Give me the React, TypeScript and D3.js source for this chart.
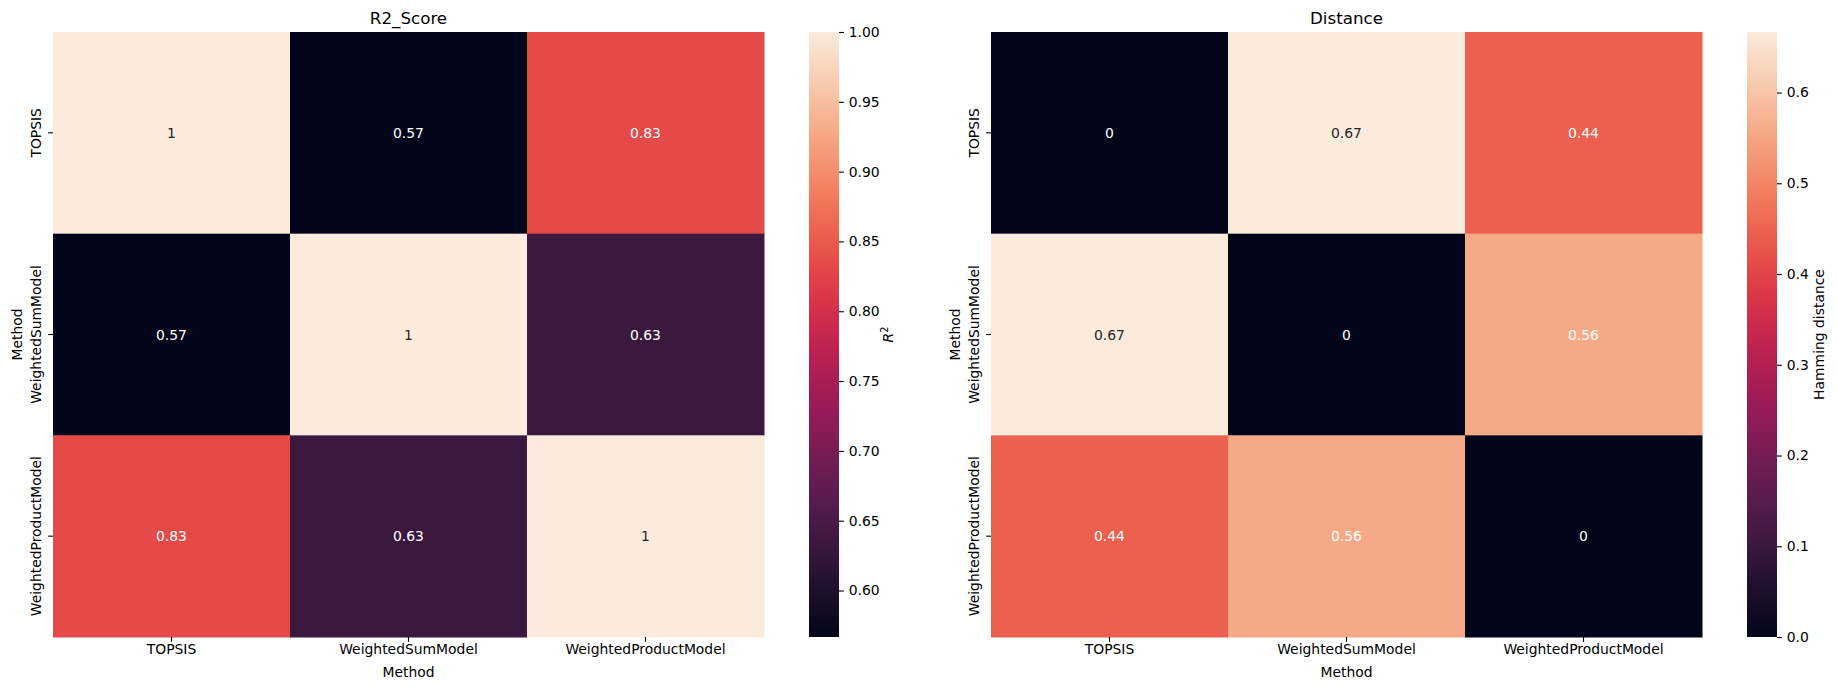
import React, { useEffect, useRef } from "react";
import * as d3 from "d3";

const methods = ["TOPSIS", "WeightedSumModel", "WeightedProductModel"];

// R2 score matrix
const r2Values = [
  [1.0, 0.5667, 0.8333],
  [0.5667, 1.0, 0.6333],
  [0.8333, 0.6333, 1.0],
];

// Hamming distance matrix
const distValues = [
  [0, 0.6667, 0.4444],
  [0.6667, 0, 0.5556],
  [0.4444, 0.5556, 0],
];

const r2Ticks = [0.6, 0.65, 0.7, 0.75, 0.8, 0.85, 0.9, 0.95, 1.0];
const distTicks = [0.0, 0.1, 0.2, 0.3, 0.4, 0.5, 0.6];

// seaborn "rocket" colormap, approximated by stops
const rocketStops = [
  "#03051a",
  "#35193e",
  "#701f57",
  "#ad1759",
  "#e13342",
  "#f37651",
  "#f6b48f",
  "#faebdd",
];
const rocket = d3.interpolateRgbBasis(rocketStops);

const FONT = "DejaVu Sans, sans-serif";
const W = 1838;
const H = 690;

const App = () => {
  const ref = useRef(null);

  useEffect(() => {
    const svg = d3.select(ref.current);
    svg.selectAll("*").remove();

    const top = 32;
    const bottom = 637;
    const tick = 4.86;

    const panels = [
      {
        title: "R2_Score",
        data: r2Values,
        left: 53,
        right: 764,
        cbLeft: 809,
        cbTicks: r2Ticks,
        cbFmt: d3.format(".2f"),
        domain: [0.5667, 1.0],
        cbLabelX: 893,
        cbLabel: "R2",
        light: 0.5,
      },
      {
        title: "Distance",
        data: distValues,
        left: 991,
        right: 1702,
        cbLeft: 1747,
        cbTicks: distTicks,
        cbFmt: d3.format(".1f"),
        domain: [0, 0.6667],
        cbLabelX: 1824,
        cbLabel: "Hamming distance",
        light: 0.75,
      },
    ];

    panels.forEach((p, pi) => {
      const x = d3.scaleBand().domain(methods).range([p.left, p.right]);
      const y = d3.scaleBand().domain(methods).range([top, bottom]);
      const norm = d3.scaleLinear().domain(p.domain).range([0, 1]).clamp(true);
      const color = (v) => rocket(norm(v));
      const fmt = d3.format(".2~g");

      const g = svg.append("g");

      const cells = [];
      p.data.forEach((row, i) =>
        row.forEach((v, j) => cells.push({ r: methods[i], c: methods[j], v }))
      );

      g.selectAll("rect.cell")
        .data(cells)
        .join("rect")
        .attr("x", (d) => x(d.c))
        .attr("y", (d) => y(d.r))
        .attr("width", x.bandwidth() + 0.5)
        .attr("height", y.bandwidth() + 0.5)
        .attr("fill", (d) => color(d.v));

      g.selectAll("text.annot")
        .data(cells)
        .join("text")
        .attr("x", (d) => x(d.c) + x.bandwidth() / 2)
        .attr("y", (d) => y(d.r) + y.bandwidth() / 2)
        .attr("dy", "0.36em")
        .attr("text-anchor", "middle")
        .attr("font-family", FONT)
        .attr("font-size", 13.9)
        .attr("fill", (d) => (norm(d.v) > 0.9 ? "#262626" : "#ffffff"))
        .text((d) => fmt(d.v));

      // x ticks
      methods.forEach((m) => {
        const cx = x(m) + x.bandwidth() / 2;
        g.append("line")
          .attr("x1", cx)
          .attr("x2", cx)
          .attr("y1", bottom)
          .attr("y2", bottom + tick)
          .attr("stroke", "#000")
          .attr("stroke-width", 1.1);
        g.append("text")
          .attr("x", cx)
          .attr("y", 654)
          .attr("text-anchor", "middle")
          .attr("font-family", FONT)
          .attr("font-size", 13.9)
          .attr("fill", "#000")
          .text(m);

        const cy = y(m) + y.bandwidth() / 2;
        g.append("line")
          .attr("x1", p.left - tick)
          .attr("x2", p.left)
          .attr("y1", cy)
          .attr("y2", cy)
          .attr("stroke", "#000")
          .attr("stroke-width", 1.1);
        g.append("text")
          .attr("transform", `translate(${p.left - 12.3},${cy}) rotate(-90)`)
          .attr("text-anchor", "middle")
          .attr("font-family", FONT)
          .attr("font-size", 13.9)
          .attr("fill", "#000")
          .text(m);
      });

      // axis labels
      g.append("text")
        .attr("x", (p.left + p.right) / 2)
        .attr("y", 677)
        .attr("text-anchor", "middle")
        .attr("font-family", FONT)
        .attr("font-size", 13.9)
        .text("Method");
      g.append("text")
        .attr("transform", `translate(${p.left - 31.5},${(top + bottom) / 2}) rotate(-90)`)
        .attr("text-anchor", "middle")
        .attr("font-family", FONT)
        .attr("font-size", 13.9)
        .text("Method");

      // title
      g.append("text")
        .attr("x", (p.left + p.right) / 2)
        .attr("y", 24)
        .attr("text-anchor", "middle")
        .attr("font-family", FONT)
        .attr("font-size", 16.7)
        .text(p.title);

      // colorbar
      const cbW = 30;
      const cbScale = d3.scaleLinear().domain(p.domain).range([bottom, top]);
      const gradId = `grad${pi}`;
      const grad = svg
        .append("defs")
        .append("linearGradient")
        .attr("id", gradId)
        .attr("x1", 0)
        .attr("x2", 0)
        .attr("y1", 1)
        .attr("y2", 0);
      d3.range(0, 1.0001, 1 / 32).forEach((t) => {
        grad.append("stop").attr("offset", t).attr("stop-color", rocket(t));
      });
      g.append("rect")
        .attr("x", p.cbLeft)
        .attr("y", top)
        .attr("width", cbW)
        .attr("height", bottom - top)
        .attr("fill", `url(#${gradId})`);

      const axis = g
        .append("g")
        .attr("transform", `translate(${p.cbLeft + cbW},0)`)
        .call(
          d3
            .axisRight(cbScale)
            .tickValues(p.cbTicks)
            .tickFormat(p.cbFmt)
            .tickSize(tick)
            .tickPadding(4.86)
        );
      axis.select(".domain").remove();
      axis.selectAll("line").attr("stroke", "#000").attr("stroke-width", 1.1);
      axis
        .selectAll("text")
        .attr("font-family", FONT)
        .attr("font-size", 13.9)
        .attr("fill", "#000");

      const lab = g
        .append("text")
        .attr("transform", `translate(${p.cbLabelX},${(top + bottom) / 2}) rotate(-90)`)
        .attr("text-anchor", "middle")
        .attr("font-family", FONT)
        .attr("font-size", 13.9)
        .attr("fill", "#000");
      if (p.cbLabel === "R2") {
        lab.append("tspan").attr("font-style", "italic").text("R");
        lab
          .append("tspan")
          .attr("font-size", 9.7)
          .attr("dy", -5)
          .text("2");
      } else {
        lab.text(p.cbLabel);
      }
    });
  }, []);

  return (
    <svg
      ref={ref}
      width={W}
      height={H}
      style={{ position: "absolute", left: 0, top: 0, background: "#fff" }}
    ></svg>
  );
};

export default App;
